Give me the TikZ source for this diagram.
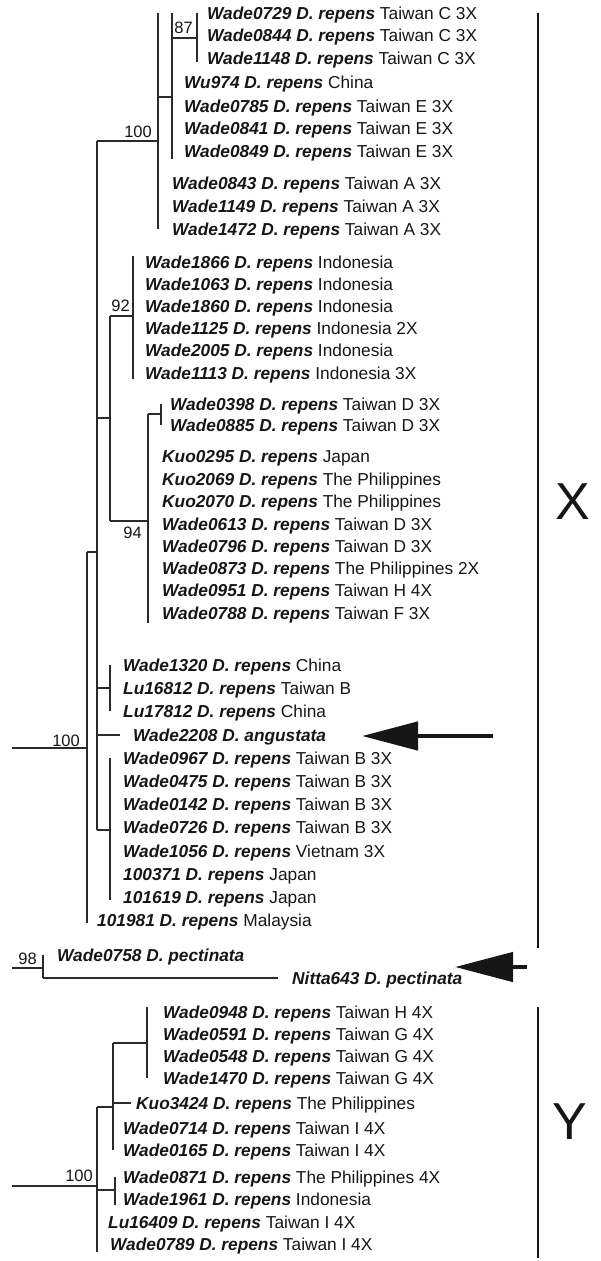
\documentclass[tikz,border=0pt]{standalone}
\usepackage{fontspec}
\setmainfont{Liberation Sans}
\usepackage{tikz}
\usetikzlibrary{positioning, arrows.meta}
\definecolor{ink}{HTML}{161616}
\definecolor{twig}{HTML}{2A2A2A}
\newcommand{\taxon}[3]{{\bfseries\itshape #1 D.~#2} #3}

\begin{document}
\begin{tikzpicture}[x=1pt,y=-1pt]
  \tikzset{leaf/.style={anchor=west,inner sep=0pt,text height=12pt,text depth=0pt,font=\fontsize{17.3}{18}\selectfont,text=ink},
    br/.style={draw=twig,line width=1.4pt},
    boot/.style={inner sep=0pt,font=\fontsize{16.5}{17}\selectfont,text=ink},
    bar/.style={draw=ink,line width=1.6pt},
    clade/.style={inner sep=0pt,font=\fontsize{52}{52}\selectfont,text=ink},
    pointer/.style={draw=ink,line width=4.5pt,-{Triangle[length=56pt,width=28pt]}}}
  \useasboundingbox (0,0) rectangle (600,1261);

  % clade X
  \node[leaf] (w0729) at (207,13) {\taxon{Wade0729}{repens}{Taiwan C 3X}};
  \node[leaf] (w0844) at (207,35) {\taxon{Wade0844}{repens}{Taiwan C 3X}};
  \node[leaf] (w1148) at (207,58) {\taxon{Wade1148}{repens}{Taiwan C 3X}};
  \node[leaf] (wu974) at (184,82) {\taxon{Wu974}{repens}{China}};
  \node[leaf] (w0785) at (184,106) {\taxon{Wade0785}{repens}{Taiwan E 3X}};
  \node[leaf] (w0841) at (184,128) {\taxon{Wade0841}{repens}{Taiwan E 3X}};
  \node[leaf] (w0849) at (184,151) {\taxon{Wade0849}{repens}{Taiwan E 3X}};
  \node[leaf] (w0843) at (172,183) {\taxon{Wade0843}{repens}{Taiwan A 3X}};
  \node[leaf] (w1149) at (172,206) {\taxon{Wade1149}{repens}{Taiwan A 3X}};
  \node[leaf] (w1472) at (172,229) {\taxon{Wade1472}{repens}{Taiwan A 3X}};
  \node[leaf] (w1866) at (145,262) {\taxon{Wade1866}{repens}{Indonesia}};
  \node[leaf] (w1063) at (145,284) {\taxon{Wade1063}{repens}{Indonesia}};
  \node[leaf] (w1860) at (145,306) {\taxon{Wade1860}{repens}{Indonesia}};
  \node[leaf] (w1125) at (145,328) {\taxon{Wade1125}{repens}{Indonesia 2X}};
  \node[leaf] (w2005) at (145,350) {\taxon{Wade2005}{repens}{Indonesia}};
  \node[leaf] (w1113) at (145,373) {\taxon{Wade1113}{repens}{Indonesia 3X}};
  \node[leaf] (w0398) at (170,404) {\taxon{Wade0398}{repens}{Taiwan D 3X}};
  \node[leaf] (w0885) at (170,425) {\taxon{Wade0885}{repens}{Taiwan D 3X}};
  \node[leaf] (k0295) at (162,456) {\taxon{Kuo0295}{repens}{Japan}};
  \node[leaf] (k2069) at (162,479) {\taxon{Kuo2069}{repens}{The Philippines}};
  \node[leaf] (k2070) at (162,501) {\taxon{Kuo2070}{repens}{The Philippines}};
  \node[leaf] (w0613) at (162,524) {\taxon{Wade0613}{repens}{Taiwan D 3X}};
  \node[leaf] (w0796) at (162,546) {\taxon{Wade0796}{repens}{Taiwan D 3X}};
  \node[leaf] (w0873) at (162,568) {\taxon{Wade0873}{repens}{The Philippines 2X}};
  \node[leaf] (w0951) at (162,590) {\taxon{Wade0951}{repens}{Taiwan H 4X}};
  \node[leaf] (w0788) at (162,613) {\taxon{Wade0788}{repens}{Taiwan F 3X}};
  \node[leaf] (w1320) at (123,665) {\taxon{Wade1320}{repens}{China}};
  \node[leaf] (lu16812) at (123,688) {\taxon{Lu16812}{repens}{Taiwan B}};
  \node[leaf] (lu17812) at (123,711) {\taxon{Lu17812}{repens}{China}};
  \node[leaf] (w2208) at (133,735) {\taxon{Wade2208}{angustata}{}};
  \node[leaf] (w0967) at (123,758) {\taxon{Wade0967}{repens}{Taiwan B 3X}};
  \node[leaf] (w0475) at (123,781) {\taxon{Wade0475}{repens}{Taiwan B 3X}};
  \node[leaf] (w0142) at (123,804) {\taxon{Wade0142}{repens}{Taiwan B 3X}};
  \node[leaf] (w0726) at (123,827) {\taxon{Wade0726}{repens}{Taiwan B 3X}};
  \node[leaf] (w1056) at (123,851) {\taxon{Wade1056}{repens}{Vietnam 3X}};
  \node[leaf] (n100371) at (123,874) {\taxon{100371}{repens}{Japan}};
  \node[leaf] (n101619) at (123,897) {\taxon{101619}{repens}{Japan}};
  \node[leaf] (n101981) at (97,920) {\taxon{101981}{repens}{Malaysia}};

  % outgroup
  \node[leaf] (w0758) at (57,955) {\taxon{Wade0758}{pectinata}{}};
  \node[leaf] (nitta643) at (292,978) {\taxon{Nitta643}{pectinata}{}};

  % clade Y
  \node[leaf] (w0948) at (163,1012) {\taxon{Wade0948}{repens}{Taiwan H 4X}};
  \node[leaf] (w0591) at (163,1034) {\taxon{Wade0591}{repens}{Taiwan G 4X}};
  \node[leaf] (w0548) at (163,1056) {\taxon{Wade0548}{repens}{Taiwan G 4X}};
  \node[leaf] (w1470) at (163,1078) {\taxon{Wade1470}{repens}{Taiwan G 4X}};
  \node[leaf] (k3424) at (136,1103) {\taxon{Kuo3424}{repens}{The Philippines}};
  \node[leaf] (w0714) at (123,1128) {\taxon{Wade0714}{repens}{Taiwan I 4X}};
  \node[leaf] (w0165) at (123,1150) {\taxon{Wade0165}{repens}{Taiwan I 4X}};
  \node[leaf] (w0871) at (123,1177) {\taxon{Wade0871}{repens}{The Philippines 4X}};
  \node[leaf] (w1961) at (123,1199) {\taxon{Wade1961}{repens}{Indonesia}};
  \node[leaf] (lu16409) at (108,1222) {\taxon{Lu16409}{repens}{Taiwan I 4X}};
  \node[leaf] (w0789) at (110,1244) {\taxon{Wade0789}{repens}{Taiwan I 4X}};

  % branch points
  \coordinate (c87) at (197,38);
  \coordinate (cTE) at (172,97);
  \coordinate (c100) at (158,141);
  \coordinate (c92) at (133,316);
  \coordinate (cD) at (161,414);
  \coordinate (c94) at (148,521);
  \coordinate (cIP) at (110,418);
  \coordinate (cB1) at (110,688);
  \coordinate (cB2) at (110,830);
  \coordinate (cBig) at (97,552);
  \coordinate (cX) at (87,748);
  \coordinate (rX) at (12,748);
  \coordinate (c98) at (43,968);
  \coordinate (r98) at (12,968);
  \coordinate (cY1) at (147,1043);
  \coordinate (cY2) at (113,1107);
  \coordinate (cY3) at (115,1190);
  \coordinate (cY) at (97,1186);
  \coordinate (rY) at (12,1186);

  \draw[br] (c87 |- w0729) -- ([yshift=-4pt]c87 |- w1148) (cTE |- c87) -- (c87);
  \draw[br] (cTE |- w0729) -- ([yshift=-8pt]cTE |- w0849) (c100 |- cTE) -- (cTE);
  \draw[br] (c100 |- w0729) -- (c100 |- w1472) (cBig |- c100) -- (c100);
  \draw[br] ([yshift=6pt]c92 |- w1866) -- ([yshift=-6pt]c92 |- w1113) (cIP |- c92) -- (c92);
  \draw[br] (cD |- w0398) -- (cD |- w0885) (c94 |- cD) -- (cD);
  \draw[br] (c94 |- cD) -- ([yshift=-10pt]c94 |- w0788) (cIP |- c94) -- (c94);
  \draw[br] (cIP |- c92) -- (cIP |- c94) (cBig |- cIP) -- (cIP);
  \draw[br] (cB1 |- w1320) -- (cB1 |- lu17812) (cBig |- cB1) -- (cB1);
  \draw[br] (cBig |- w2208) -- ([xshift=-13pt]w2208.west);
  \draw[br] (cB2 |- w0967) -- ([yshift=-3pt]cB2 |- n101619) (cBig |- cB2) -- (cB2);
  \draw[br] (cBig |- c100) -- (cBig |- cB2) (cX |- cBig) -- (cBig);
  \draw[br] (cX |- cBig) -- ([yshift=-3pt]cX |- n101981) (rX) -- (cX);
  \draw[br] (c98 |- w0758) -- (c98 |- nitta643) (r98) -- (c98);
  \draw[br] (c98 |- nitta643) -- ([xshift=-14pt]nitta643.west);
  \draw[br] ([yshift=5pt]cY1 |- w0948) -- (cY1 |- w1470) (cY2 |- cY1) -- (cY1);
  \draw[br] (cY2 |- cY1) -- (cY2 |- w0165) (cY |- cY2) -- (cY2);
  \draw[br] (cY2 |- k3424) -- ([xshift=-5pt]k3424.west);
  \draw[br] (cY3 |- w0871) -- ([yshift=-6pt]cY3 |- w1961) (cY |- cY3) -- (cY3);
  \draw[br] (cY |- cY2) -- ([yshift=-8pt]cY |- w0789) (rY) -- (cY);

  % support values
  \node[boot, above left=4pt and 4pt of c87] (b87) {87};
  \node[boot, above left=3pt and 6pt of c100] (b100a) {100};
  \node[boot, above left=4pt and 3pt of c92] (b92) {92};
  \node[boot, below left=6pt and 6pt of c94] (b94) {94};
  \node[boot, above left=1pt and 7pt of cX] (b100b) {100};
  \node[boot, above left=3pt and 6pt of c98] (b98) {98};
  \node[boot, above left=4pt and 4pt of cY] (b100c) {100};

  % clade bars
  \coordinate (xTop) at (538,13);
  \coordinate (xBot) at (538,948);
  \coordinate (yTop) at (538,1007);
  \coordinate (yBot) at (538,1258);
  \draw[bar] (xTop) -- (xBot);
  \draw[bar] (yTop) -- (yBot);
  \node[clade] (labX) at (573,502) {X};
  \node[clade] (labY) at (570,1122) {Y};

  % arrows
  \coordinate (a1) at (493,736);
  \coordinate (a1tip) at (362,736);
  \coordinate (a2) at (527,967);
  \coordinate (a2tip) at (455,967);
  \draw[pointer] (a1) -- (a1tip);
  \draw[pointer,-{Triangle[length=58pt,width=29pt]}] (a2) -- (a2tip);
\end{tikzpicture}
\end{document}
